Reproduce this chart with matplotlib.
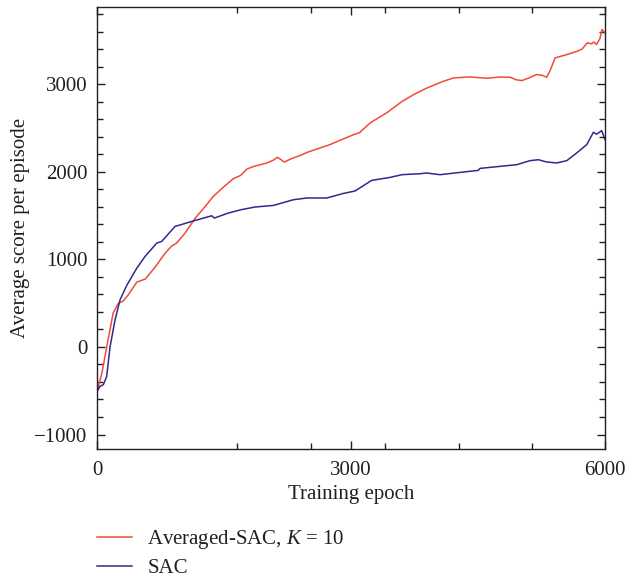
import matplotlib
matplotlib.use("Agg")
import matplotlib.pyplot as plt
from matplotlib.ticker import FixedLocator, MultipleLocator

plt.rcParams['font.family'] = ['Liberation Serif', 'DejaVu Serif']
plt.rcParams['mathtext.fontset'] = 'custom'
plt.rcParams['mathtext.it'] = 'Liberation Serif:italic'
plt.rcParams['mathtext.rm'] = 'Liberation Serif'

avg_x = [0, 30, 60, 115, 190, 250, 310, 370, 470, 570, 690, 800, 880, 940, 1040, 1160,
         1280, 1370, 1500, 1610, 1700, 1770, 1850, 2000, 2080, 2130, 2170, 2210, 2300,
         2400, 2480, 2600, 2750, 2900, 3030, 3100, 3230, 3420, 3600, 3740, 3900, 4090,
         4210, 4400, 4600, 4750, 4880, 4950, 5020, 5100, 5190, 5260, 5310, 5350, 5410,
         5550, 5670, 5730, 5790, 5840, 5870, 5900, 5940, 5965, 6000]
avg_y = [-510, -400, -290, 0, 385, 495, 525, 595, 740, 775, 915, 1065, 1150, 1185, 1300,
         1470, 1605, 1715, 1830, 1920, 1960, 2030, 2060, 2098, 2130, 2165, 2140, 2110,
         2150, 2185, 2220, 2260, 2309, 2370, 2423, 2445, 2560, 2671, 2800, 2880, 2957,
         3032, 3070, 3082, 3067, 3080, 3078, 3050, 3040, 3070, 3109, 3100, 3078, 3150,
         3299, 3337, 3375, 3400, 3471, 3460, 3480, 3452, 3520, 3623, 3585]

sac_x = [0, 35, 75, 114, 154, 213, 272, 350, 470, 567, 705, 764, 921, 1118, 1355, 1386,
         1551, 1700, 1866, 2083, 2319, 2477, 2713, 2910, 3048, 3244, 3461, 3600, 3815,
         3894, 4051, 4287, 4504, 4524, 4760, 4957, 5114, 5213, 5311, 5430, 5548, 5666,
         5784, 5863, 5902, 5961, 6000]
sac_y = [-510, -450, -430, -340, 0, 308, 537, 700, 899, 1032, 1185, 1204, 1375, 1432,
         1497, 1471, 1528, 1566, 1597, 1615, 1680, 1700, 1700, 1752, 1780, 1901, 1935,
         1966, 1977, 1985, 1966, 1992, 2015, 2038, 2061, 2080, 2126, 2137, 2111, 2100,
         2126, 2214, 2309, 2450, 2428, 2469, 2366]

x_major = [0, 3000, 6000]
x_minor = [1650, 2530, 3400, 4270, 5140]
y_major = [-1000, 0, 1000, 2000, 3000]

red = '#F04B38'
blue = '#2E2A8F'
txt = '#231F20'
fs = 15

fig = plt.figure(figsize=(6.27, 5.81), dpi=100)
ax = fig.add_axes([97/627, 1-449/581, (605-97)/627, (449-7)/581])

l1, = ax.plot(avg_x, avg_y, color=red, lw=1.1)
l2, = ax.plot(sac_x, sac_y, color=blue, lw=1.1)

ax.set_xlim(0, 6000)
ax.set_ylim(-1165, 3880)
ax.xaxis.set_major_locator(FixedLocator(x_major))
ax.xaxis.set_minor_locator(FixedLocator(x_minor))
ax.yaxis.set_major_locator(FixedLocator(y_major))
ax.yaxis.set_minor_locator(MultipleLocator(200))

ax.tick_params(which='both', direction='in', top=True, right=True, colors=txt,
               labelsize=fs, width=1.0)
ax.tick_params(which='major', length=6)
ax.tick_params(which='minor', length=4)
ax.tick_params(axis='x', pad=8.5)
ax.tick_params(axis='y', pad=7)
for s in ax.spines.values():
    s.set_color(txt)
    s.set_linewidth(1.0)

ax.set_xlabel('Training epoch', fontsize=fs, color=txt, labelpad=4)
ax.set_ylabel('Average score per episode', fontsize=fs, color=txt, labelpad=3)

fig.legend([l1, l2], [r'Averaged-SAC, $K$ = 10', 'SAC'], loc='upper left',
           bbox_to_anchor=(97/627, 1-528/581), frameon=False, fontsize=fs,
           borderpad=0, borderaxespad=0, handlelength=1.7, handletextpad=0.72,
           labelspacing=0.35, labelcolor=txt)

fig.savefig('out.png', dpi=100)
